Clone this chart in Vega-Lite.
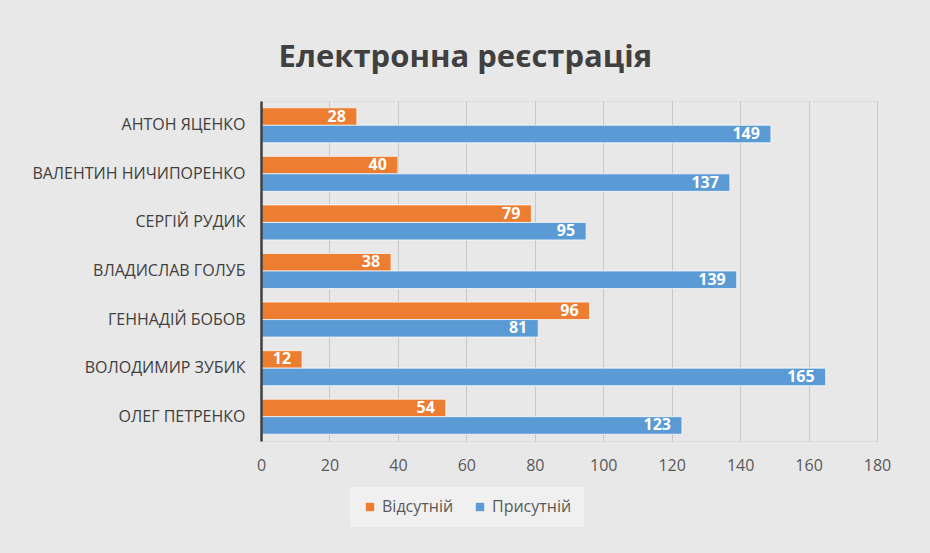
{
  "$schema": "https://vega.github.io/schema/vega-lite/v6.json",
  "autosize": {"type": "none"},
  "width": 616,
  "height": 340,
  "padding": {"left": 261, "top": 101, "right": 53, "bottom": 112},
  "background": "#e8e8e8",
  "title": {
    "text": "Електронна реєстрація",
    "font": "Open Sans",
    "fontSize": 31,
    "fontWeight": "bold",
    "color": "#404040",
    "anchor": "middle",
    "frame": "bounds",
    "offset": 27,
    "dx": 4
  },
  "data": {
    "values": [
      {"name": "АНТОН ЯЦЕНКО", "status": "Відсутній", "count": 28},
      {"name": "АНТОН ЯЦЕНКО", "status": "Присутній", "count": 149},
      {"name": "ВАЛЕНТИН НИЧИПОРЕНКО", "status": "Відсутній", "count": 40},
      {"name": "ВАЛЕНТИН НИЧИПОРЕНКО", "status": "Присутній", "count": 137},
      {"name": "СЕРГІЙ РУДИК", "status": "Відсутній", "count": 79},
      {"name": "СЕРГІЙ РУДИК", "status": "Присутній", "count": 95},
      {"name": "ВЛАДИСЛАВ ГОЛУБ", "status": "Відсутній", "count": 38},
      {"name": "ВЛАДИСЛАВ ГОЛУБ", "status": "Присутній", "count": 139},
      {"name": "ГЕННАДІЙ БОБОВ", "status": "Відсутній", "count": 96},
      {"name": "ГЕННАДІЙ БОБОВ", "status": "Присутній", "count": 81},
      {"name": "ВОЛОДИМИР ЗУБИК", "status": "Відсутній", "count": 12},
      {"name": "ВОЛОДИМИР ЗУБИК", "status": "Присутній", "count": 165},
      {"name": "ОЛЕГ ПЕТРЕНКО", "status": "Відсутній", "count": 54},
      {"name": "ОЛЕГ ПЕТРЕНКО", "status": "Присутній", "count": 123}
    ]
  },
  "encoding": {
    "y": {
      "field": "name",
      "type": "nominal",
      "sort": null,
      "title": null,
      "scale": {"paddingInner": 0.28, "paddingOuter": 0.14},
      "axis": {
        "labelFont": "Open Sans",
        "labelFontSize": 16,
        "labelColor": "#404040",
        "labelPadding": 16,
        "ticks": false,
        "domainColor": "#404040",
        "domainWidth": 2.5,
        "labelLimit": 400,
        "zindex": 1
      }
    },
    "yOffset": {"field": "status", "type": "nominal", "sort": ["Відсутній", "Присутній"]},
    "x": {
      "field": "count",
      "type": "quantitative",
      "title": null,
      "scale": {"domain": [0, 180]},
      "axis": {
        "values": [0, 20, 40, 60, 80, 100, 120, 140, 160, 180],
        "labelFont": "Open Sans",
        "labelFontSize": 16,
        "labelColor": "#595959",
        "labelPadding": 16,
        "labelFlush": false,
        "ticks": false,
        "domain": false,
        "grid": true,
        "gridColor": "#c8c8c8",
        "gridWidth": 1
      }
    }
  },
  "layer": [
    {
      "mark": {"type": "bar", "stroke": "#ffffff", "strokeWidth": 1, "strokeOpacity": 0.7},
      "encoding": {
        "color": {
          "field": "status",
          "type": "nominal",
          "title": null,
          "scale": {"domain": ["Відсутній", "Присутній"], "range": ["#ed7d31", "#5b9bd5"]},
          "legend": {
            "orient": "none",
            "direction": "horizontal",
            "legendX": 89,
            "legendY": 386,
            "fillColor": "#f0f0f0",
            "padding": 12,
            "symbolType": "square",
            "symbolSize": 70,
            "symbolStrokeWidth": 0,
            "labelFont": "Open Sans",
            "labelFontSize": 16,
            "labelColor": "#595959",
            "columnPadding": 18,
            "labelOffset": 4
          }
        }
      }
    },
    {
      "mark": {
        "type": "text",
        "align": "right",
        "baseline": "middle",
        "dx": -11,
        "font": "Open Sans",
        "fontSize": 16,
        "fontWeight": "bold",
        "color": "#ffffff"
      },
      "encoding": {
        "text": {"field": "count", "type": "quantitative"}
      }
    }
  ]
}
